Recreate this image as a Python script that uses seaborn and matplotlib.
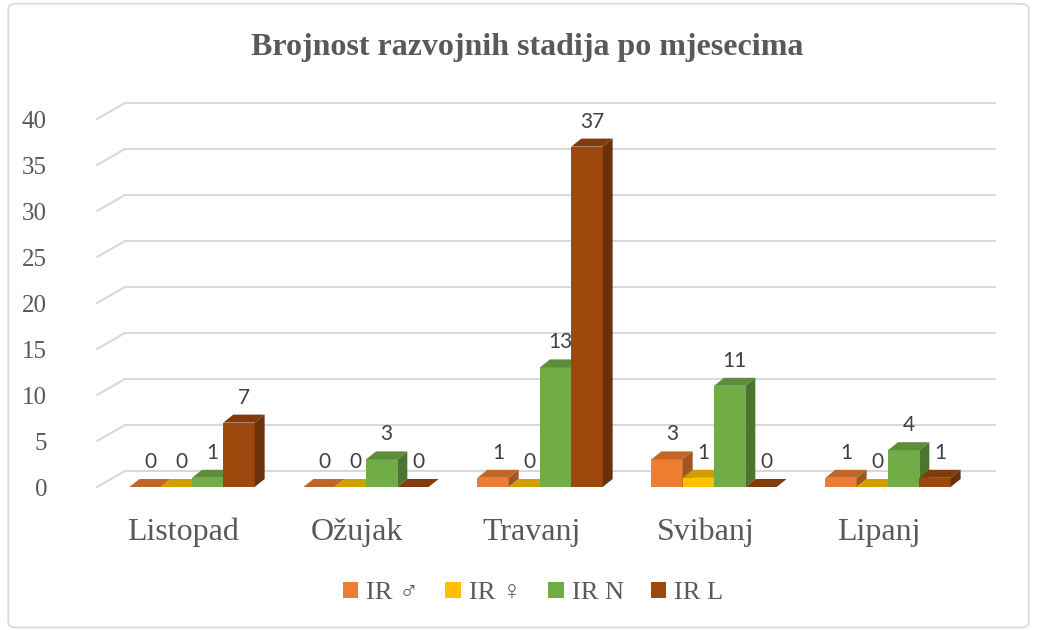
import numpy as np
import pandas as pd
import matplotlib.pyplot as plt
import matplotlib.colors as mcolors
from matplotlib.patches import Polygon, Patch, FancyBboxPatch
import seaborn as sns

# data
months = ['Listopad', 'Ožujak', 'Travanj', 'Svibanj', 'Lipanj']
stages = ['IR ♂', 'IR ♀', 'IR N', 'IR L']
ir_m = [0, 0, 1, 3, 1]
ir_f = [0, 0, 0, 1, 0]
ir_n = [1, 3, 13, 11, 4]
ir_l = [7, 0, 37, 0, 1]
yticks = [0, 5, 10, 15, 20, 25, 30, 35, 40]

colors = ['#ED7D31', '#FFC000', '#70AD47', '#9E480E']

df = pd.DataFrame({
    'month': np.repeat(months, 4),
    'stage': stages * len(months),
    'count': [v for row in zip(ir_m, ir_f, ir_n, ir_l) for v in row],
})

sns.set_style('white')
serif = ['Liberation Serif', 'DejaVu Serif', 'DejaVu Sans']

fig = plt.figure(figsize=(10.37, 6.3), dpi=100)
ax = fig.add_axes([97 / 1037, 1 - 487 / 630, 898 / 1037, 391 / 630])

sns.barplot(data=df, x='month', y='count', hue='stage', order=months,
            hue_order=stages, palette=colors, saturation=1, width=0.72,
            ax=ax, legend=False, errorbar=None)

ax.set_xlim(-0.546, 4.615)
ax.set_ylim(0, 42.5)

# back wall offsets (data units) and bar depth offsets
gdx, gdy = 28 / 174, 16 / 9.2
bdx, bdy = 10 / 174, 8 / 9.2
x0, x1 = ax.get_xlim()
for t in yticks:
    ax.plot([x0, x0 + gdx, x1], [t, t + gdy, t + gdy], color='#D9D9D9',
            lw=1.5, zorder=1, clip_on=False)


def shade(c, f):
    r, g, b = mcolors.to_rgb(c)
    return (r * f, g * f, b * f)


bars = []
for ci, cont in enumerate(ax.containers):
    for p in cont.patches:
        bars.append((p.get_x(), p, ci))
bars.sort(key=lambda b: b[0])

for k, (_, p, ci) in enumerate(bars):
    z = 3 + k * 0.01
    x, w, h = p.get_x(), p.get_width(), p.get_height()
    c = colors[ci]
    p.set_zorder(z)
    p.set_edgecolor('none')
    top = Polygon([[x, h], [x + w, h], [x + w + bdx, h + bdy], [x + bdx, h + bdy]],
                  closed=True, facecolor=shade(c, 0.82), edgecolor='none',
                  zorder=z, clip_on=False)
    side = Polygon([[x + w, 0], [x + w + bdx, bdy], [x + w + bdx, h + bdy], [x + w, h]],
                   closed=True, facecolor=shade(c, 0.68), edgecolor='none',
                   zorder=z, clip_on=False)
    ax.add_patch(top)
    ax.add_patch(side)
    ax.annotate(f'{int(h)}', (x + w / 2 + bdx / 2, h + bdy), xytext=(0, 5),
                textcoords='offset points', ha='center', va='bottom',
                fontsize=15, color='#404040', family='Lato', zorder=10)

sns.despine(ax=ax, left=True, bottom=True)
ax.grid(False)
ax.set_xlabel('')
ax.set_ylabel('')
ax.set_yticks(yticks)
ax.set_yticklabels([str(t) for t in yticks], family=serif, fontsize=18,
                   color='#595959')
ax.set_xticks(np.arange(len(months)) - 0.05)
ax.set_xticklabels(months, family=serif, fontsize=23, color='#595959')
ax.tick_params(axis='y', length=0, pad=36)
ax.tick_params(axis='x', length=0, pad=22)

fig.text(527 / 1037, 1 - 47 / 630, 'Brojnost razvojnih stadija po mjesecima',
         ha='center', va='center', fontsize=23, fontweight='bold',
         color='#595959', family=serif)

handles = [Patch(facecolor=c, edgecolor='none', label=s) for c, s in zip(colors, stages)]
leg = fig.legend(handles=handles, loc='center', bbox_to_anchor=(533 / 1037, 1 - 593 / 630),
                 ncol=4, frameon=False, handlelength=0.6, handleheight=0.6,
                 handletextpad=0.3, columnspacing=1.0,
                 prop={'family': serif, 'size': 19})
for t in leg.get_texts():
    t.set_color('#595959')

fig.patches.append(FancyBboxPatch((0.008, 0.004), 0.984, 0.99,
                                  boxstyle='round,pad=0,rounding_size=0.008',
                                  transform=fig.transFigure, facecolor='none',
                                  edgecolor='#D9D9D9', lw=1.2))

fig.savefig('out.png', dpi=100)
